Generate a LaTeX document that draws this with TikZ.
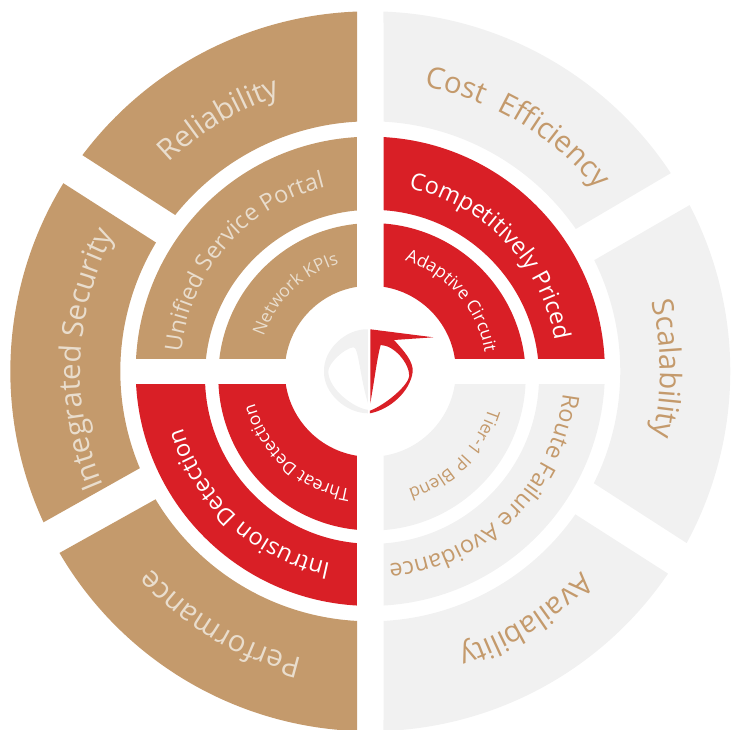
\documentclass[tikz,border=0pt]{standalone}
\usepackage{fontspec}
\setmainfont{Open Sans}
\usetikzlibrary{decorations.text}
\definecolor{wheeltan}{HTML}{C49A6C}
\definecolor{wheelred}{HTML}{D91F26}
\definecolor{wheelgray}{HTML}{F1F1F1}
\definecolor{paletan}{HTML}{E9DDCD}
\newcommand{\outerfont}{\fontsize{29.5}{29.5}\selectfont}
\newcommand{\middlefont}{\fontsize{23.5}{23.5}\selectfont}
\newcommand{\innerfont}{\fontsize{17.5}{17.5}\selectfont}
\tikzset{
  ringlabel/.style={decorate,decoration={text along path,text align=center,text color=#1}},
  quartering/.style={even odd rule},
}
\begin{document}
\begin{tikzpicture}[x=1pt,y=1pt]
  \useasboundingbox (-370.3,-357.7) rectangle (360.7,371.3);
  \fill[wheeltan] (92.1:360) arc[start angle=92.1,end angle=143.1,radius=360] -- (141.3:250) arc[start angle=141.3,end angle=93.05,radius=250] -- cycle;
  \fill[wheeltan] (148.5:360) arc[start angle=148.5,end angle=204.8,radius=360] -- (202.8:250) arc[start angle=202.8,end angle=149,radius=250] -- cycle;
  \fill[wheeltan] (210.3:360) arc[start angle=210.3,end angle=267.9,radius=360] -- (266.95:250) arc[start angle=266.95,end angle=210.8,radius=250] -- cycle;
  \fill[wheelgray] (87.9:360) arc[start angle=87.9,end angle=33.4,radius=360] -- (34.7:250) arc[start angle=34.7,end angle=86.95,radius=250] -- cycle;
  \fill[wheelgray] (27.5:360) arc[start angle=27.5,end angle=-28.5,radius=360] -- (-26.6:250) arc[start angle=-26.6,end angle=26.4,radius=250] -- cycle;
  \fill[wheelgray] (-34.2:360) arc[start angle=-34.2,end angle=-87.9,radius=360] -- (-86.95:250) arc[start angle=-86.95,end angle=-34.9,radius=250] -- cycle;
  \begin{scope}
    \clip (-13.3,13.3) rectangle (-240,240);
    \fill[wheeltan,quartering] (0,0) circle[radius=234.6] (1.7,-5.5) circle[radius=167] (1.7,-5.5) circle[radius=153.7] (0,0) circle[radius=85.5];
  \end{scope}
  \begin{scope}
    \clip (13.3,13.3) rectangle (240,240);
    \fill[wheelred,quartering] (0,0) circle[radius=234.6] (1.7,-5.5) circle[radius=167] (1.7,-5.5) circle[radius=153.7] (0,0) circle[radius=85.5];
  \end{scope}
  \begin{scope}
    \clip (-13.3,-13.3) rectangle (-240,-240);
    \fill[wheelred,quartering] (0,0) circle[radius=234.6] (1.7,-5.5) circle[radius=167] (1.7,-5.5) circle[radius=153.7] (0,0) circle[radius=85.5];
  \end{scope}
  \begin{scope}
    \clip (13.3,-13.3) rectangle (240,-240);
    \fill[wheelgray,quartering] (0,0) circle[radius=234.6] (1.7,-5.5) circle[radius=167] (1.7,-5.5) circle[radius=153.7] (0,0) circle[radius=85.5];
  \end{scope}
  \fill[wheelred] (0,42) -- (63,34) -- (23.7,31.3) .. controls (34,20) and (43,10) .. (42.4,-0.4) .. controls (40,-20) and (20,-38) .. (-0.3,-42) -- (-0.3,-39.4) .. controls (16,-33) and (38,-14) .. (39,-4.7) .. controls (39,8) and (24,26) .. (10.4,26.3) .. controls (7,15) and (4,-10) .. (0,-32) -- cycle;
  \fill[wheelgray] (-2.3,42) .. controls (-24,43) and (-47,22) .. (-46.3,0) .. controls (-47,-22) and (-24,-42) .. (-2.3,-42) -- (-2.3,-38.5) .. controls (-16,-37) and (-42,-18) .. (-42,0) .. controls (-42,8) and (-26,23) .. (-17,24) .. controls (-12,26) and (-10,-8) .. (-2.3,-32) -- cycle;
  \path[ringlabel=paletan,decoration={text={|\outerfont|Reliability}}] (171:290) arc[start angle=171,end angle=71,radius=290];
  \path[ringlabel=paletan,decoration={text={|\outerfont|Integrated Security}}] (237.5:290) arc[start angle=237.5,end angle=117.5,radius=290];
  \path[ringlabel=paletan,decoration={text={|\outerfont|Performance}}] (289.3:295) arc[start angle=289.3,end angle=189.3,radius=295];
  \path[ringlabel=wheeltan,decoration={text={|\outerfont|Cost{ }{ }Efficiency}}] (119:290) arc[start angle=119,end angle=-1,radius=290];
  \path[ringlabel=wheeltan,decoration={text={|\outerfont|Scalability}}] (50.5:290) arc[start angle=50.5,end angle=-49.5,radius=290];
  \path[ringlabel=wheeltan,decoration={text={|\outerfont|Availability}}] (-8:291) arc[start angle=-8,end angle=-108,radius=291];
  \path[ringlabel=paletan,decoration={text={|\middlefont|Unified Service Portal}}] (209:190) arc[start angle=209,end angle=69,radius=190];
  \path[ringlabel=white,decoration={text={|\middlefont|Competitively Priced}}] (113.8:187) arc[start angle=113.8,end angle=-26.2,radius=187];
  \path[ringlabel=wheeltan,decoration={text={|\middlefont|Route Failure Avoidance}}] (24.5:194) arc[start angle=24.5,end angle=-115.5,radius=194];
  \path[ringlabel=white,decoration={text={|\middlefont|Intrusion Detection}}] (297.5:196) arc[start angle=297.5,end angle=157.5,radius=196];
  \path[ringlabel=paletan,decoration={text={|\innerfont|Network KPIs}}] (214:112) arc[start angle=214,end angle=54,radius=112];
  \path[ringlabel=white,decoration={text={|\innerfont|Adaptive Circuit}}] (121:116) arc[start angle=121,end angle=-39,radius=116];
  \path[ringlabel=wheeltan,decoration={text={|\innerfont|Tier-1 IP Blend}}] (35:124) arc[start angle=35,end angle=-125,radius=124];
  \path[ringlabel=white,decoration={text={|\innerfont|Threat Detection}}] (308:120) arc[start angle=308,end angle=148,radius=120];
\end{tikzpicture}
\end{document}
